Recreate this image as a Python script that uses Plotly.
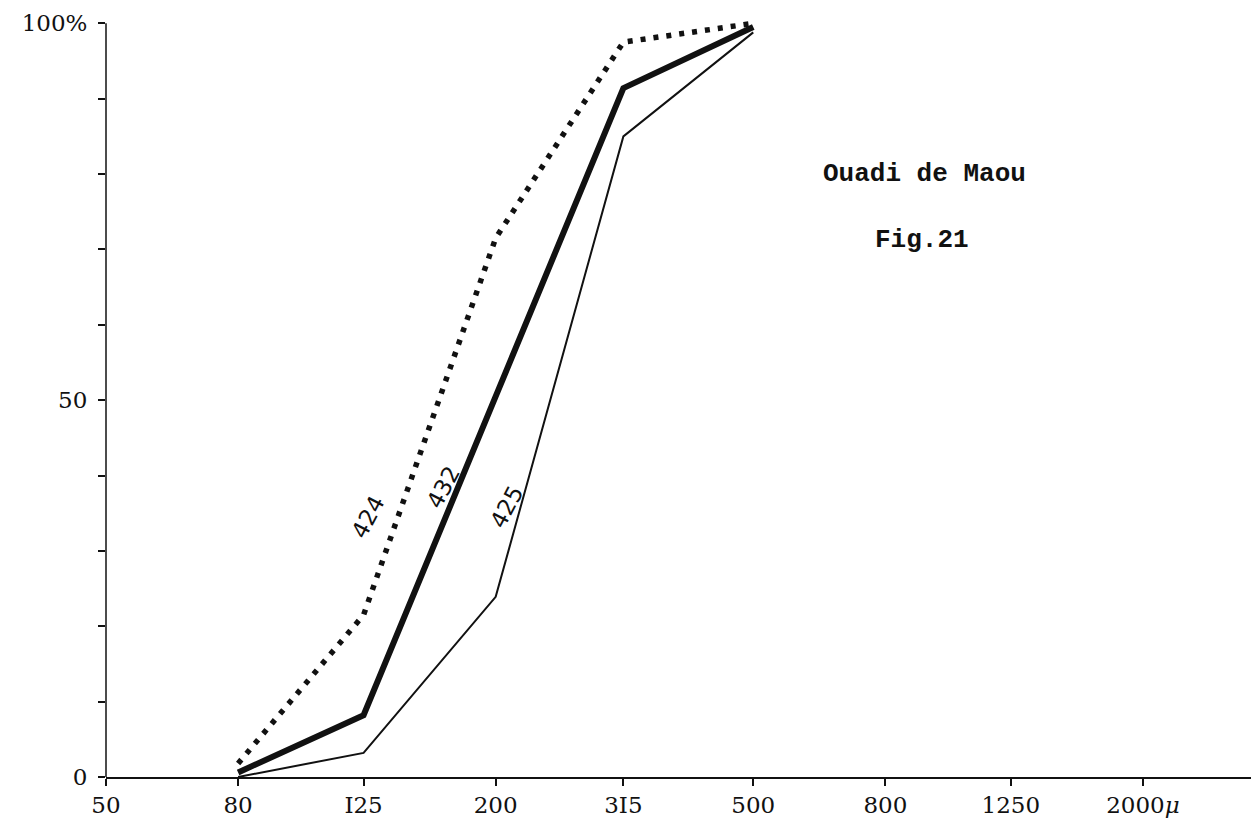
import math
import plotly.graph_objects as go

# Grain-size classes (microns) and cumulative percentages
sizes = [50, 80, 125, 200, 315, 500, 800, 1250, 2000]
size_labels = ["50", "80", "I25", "200", "3I5", "500", "800", "1250", "2000<i>μ</i>"]

x_pts = [80, 125, 200, 315, 500]
s424 = [1.8, 21.5, 71.5, 97.5, 100.0]
s432 = [0.6, 8.2, 50.5, 91.4, 99.5]
s425 = [0.0, 3.2, 23.9, 85.0, 98.8]

y_ticks = list(range(0, 101, 10))
y_ticktext = ["0", "", "", "", "", "50", "", "", "", "", "100%"]

ink = "#111111"
fig = go.Figure()

fig.add_trace(go.Scatter(x=x_pts, y=s424, mode="lines", name="424",
                         line=dict(color=ink, width=5.5, dash="5px,8px")))
fig.add_trace(go.Scatter(x=x_pts, y=s432, mode="lines", name="432",
                         line=dict(color=ink, width=6)))
fig.add_trace(go.Scatter(x=x_pts, y=s425, mode="lines", name="425",
                         line=dict(color=ink, width=2)))

# Curve labels, written along the curves
curve_labels = [("424", 127, 34.5), ("432", 166, 38.5), ("425", 208, 35.8)]
for txt, xv, yv in curve_labels:
    fig.add_annotation(x=math.log10(xv), y=yv, text=txt, showarrow=False,
                       textangle=-62, font=dict(family="DejaVu Sans", size=23, color=ink))

# Title block
title_lines = [("Ouadi de Maou", 920, 80.0), ("Fig.21", 910, 71.2)]
for txt, xv, yv in title_lines:
    fig.add_annotation(x=math.log10(xv), y=yv, text=f"<b>{txt}</b>", showarrow=False,
                       font=dict(family="Liberation Mono", size=26, color=ink))

# Vertical axis line from 0 to 100 %
fig.add_shape(type="line", xref="paper", yref="y", x0=0, x1=0, y0=0, y1=100,
              line=dict(color=ink, width=1.5))

fig.update_layout(
    width=1251, height=837,
    margin=dict(l=106, r=0, t=12, b=60),
    paper_bgcolor="white", plot_bgcolor="white",
    showlegend=False,
    font=dict(family="DejaVu Serif", size=23, color=ink),
)
fig.update_xaxes(
    type="log", range=[math.log10(50), 3.468],
    tickvals=sizes, ticktext=size_labels,
    ticks="outside", ticklen=7, tickwidth=1.5, tickcolor=ink,
    showline=True, linecolor=ink, linewidth=1.5,
    showgrid=False, zeroline=False,
    tickfont=dict(family="DejaVu Serif", size=23, color=ink),
)
fig.update_yaxes(
    range=[0, 101.5],
    tickvals=y_ticks, ticktext=y_ticktext,
    ticks="outside", ticklen=7, tickwidth=1.5, tickcolor=ink,
    ticklabelstandoff=6,
    showline=False, showgrid=False, zeroline=False,
    tickfont=dict(family="DejaVu Serif", size=23, color=ink),
)

fig.write_html("out.html")
